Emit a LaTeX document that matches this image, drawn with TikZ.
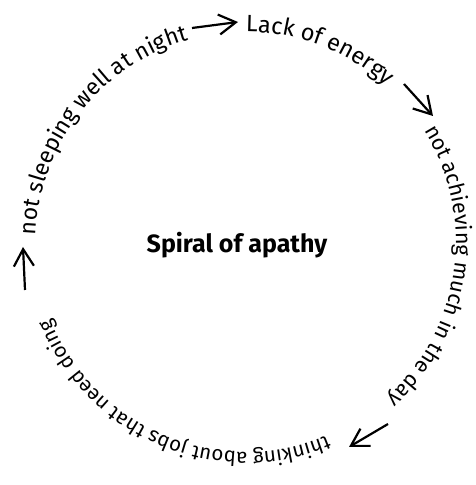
\documentclass[tikz,border=0pt]{standalone}
\usepackage{fontspec}
\setmainfont{Fira Sans}
\usetikzlibrary{decorations.text,arrows.meta}

\newcommand{\ringfont}[1]{\fontsize{#1}{#1}\selectfont}

\begin{document}
\begin{tikzpicture}[%Spiral picture
  ringtext/.style n args={2}{decorate, decoration={text along path, text align=center, text={|\ringfont{#1}|#2}}},
  ringarrow/.style={line width=2.2pt, -{Straight Barb[length=17pt,width=20pt]}},
  titlenode/.style={font=\bfseries\fontsize{25}{25}\selectfont, inner sep=0pt, anchor=base}
]
\useasboundingbox (0,0) rectangle (475pt,485pt);

%Centre and title
\coordinate (O) at (246pt,243pt);
\node[titlenode] (title) at (237pt,232pt) {Spiral of apathy};

%Texts round the circle
\path[ringtext={23.5}{Lack of energy}] (O) ++(144:210pt) arc[start angle=144, end angle=-6, radius=210pt];
\path[ringtext={21.5}{not achieving much in the day}] (O) ++(67:210pt) arc[start angle=67, end angle=-83, radius=210pt];
\path[ringtext={20.5}{thinking about jobs that need doing}] (O) ++(-38:210pt) arc[start angle=-38, end angle=-188, radius=210pt];
\path[ringtext={23}{not sleeping well at night}] (O) ++(217:210pt) arc[start angle=217, end angle=67, radius=210pt];

%Arrow ends
\coordinate (a1s) at (192pt,457pt); \coordinate (a1e) at (238pt,463pt);
\coordinate (a2s) at (404pt,401pt); \coordinate (a2e) at (433pt,369pt);
\coordinate (a3s) at (388pt,61pt);  \coordinate (a3e) at (349pt,38pt);
\coordinate (a4s) at (25pt,195pt);  \coordinate (a4e) at (23pt,238pt);

%Arrows
\draw[ringarrow] (a1s) -- (a1e);
\draw[ringarrow] (a2s) -- (a2e);
\draw[ringarrow] (a3s) -- (a3e);
\draw[ringarrow] (a4s) -- (a4e);
\end{tikzpicture}
\end{document}
